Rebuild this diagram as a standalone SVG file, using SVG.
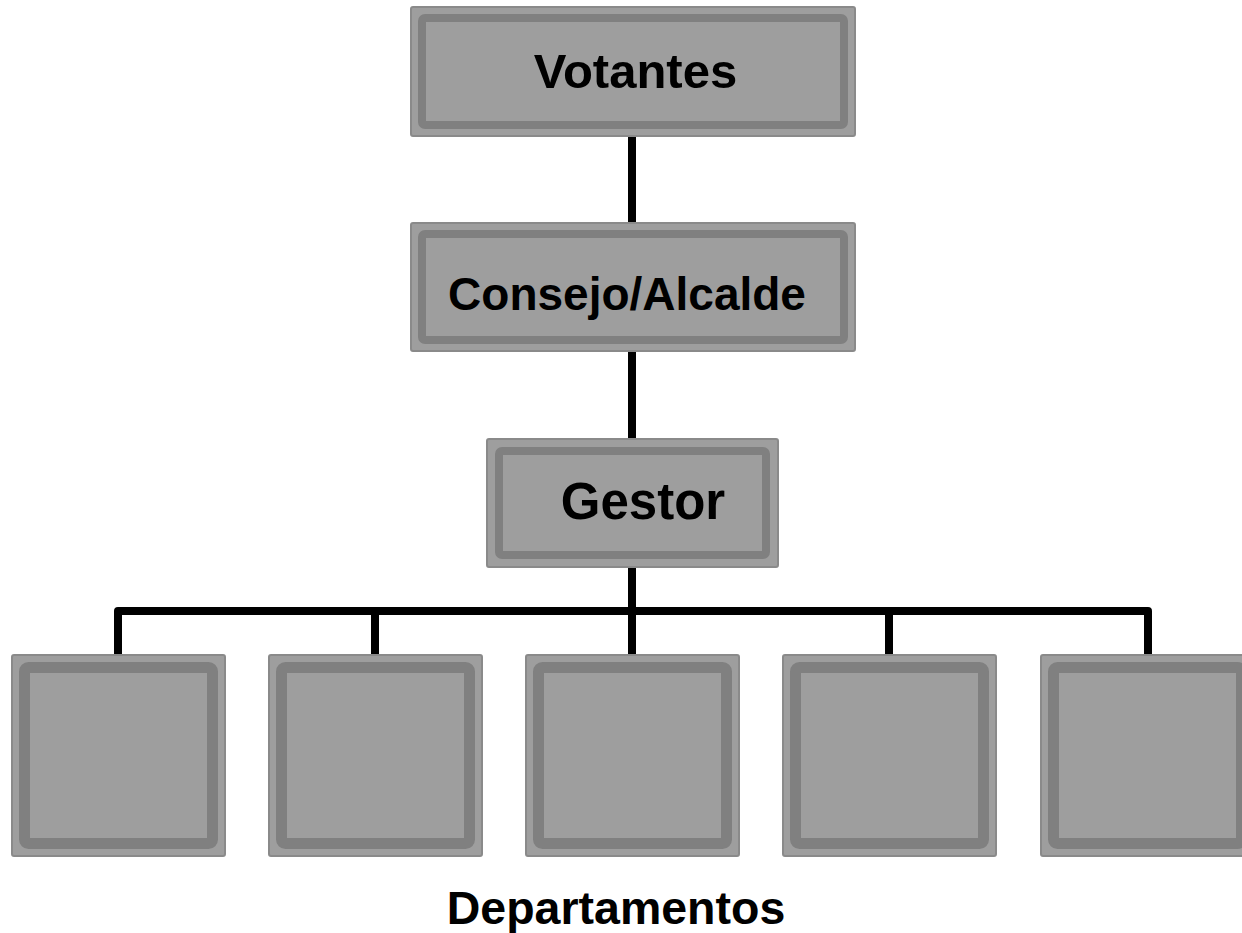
<svg xmlns="http://www.w3.org/2000/svg" width="1242" height="933" viewBox="0 0 1242 933">
<style>
.outer{fill:#9e9e9e;stroke:#8a8a8a;stroke-width:2}
.band{fill:#9e9e9e;stroke:#808080}
.lbl{font-family:"Liberation Sans",Arial,sans-serif;font-weight:bold;fill:#000;text-anchor:middle}
.conn{stroke:#000;stroke-width:8;fill:none}
</style>
<rect width="1242" height="933" fill="#fff"/>
<g id="connectors">
<line class="conn" x1="632" y1="136" x2="632" y2="223"/>
<line class="conn" x1="632" y1="351" x2="632" y2="439"/>
<line class="conn" x1="632" y1="567" x2="632" y2="655"/>
<path class="conn" d="M118,655 V611 H1148 V655" stroke-linejoin="round"/>
<line class="conn" x1="375" y1="611" x2="375" y2="655"/>
<line class="conn" x1="889" y1="611" x2="889" y2="655"/>
</g>
<g id="votantes">
<rect class="outer" x="411" y="7" width="444" height="129" rx="2"/>
<rect class="band" x="422" y="18" width="422" height="107" rx="3" stroke-width="8"/>
<text class="lbl" x="635.5" y="88" font-size="49">Votantes</text>
</g>
<g id="consejo">
<rect class="outer" x="411" y="223" width="444" height="128" rx="2"/>
<rect class="band" x="422" y="234" width="422" height="106" rx="3" stroke-width="8"/>
<text class="lbl" x="627" y="310" font-size="46">Consejo/Alcalde</text>
</g>
<g id="gestor">
<rect class="outer" x="487" y="439" width="291" height="128" rx="2"/>
<rect class="band" x="499" y="451" width="267" height="104" rx="3" stroke-width="8"/>
<text class="lbl" x="643" y="519" font-size="51">Gestor</text>
</g>
<g id="dept1">
<rect class="outer" x="12" y="655" width="213" height="201" rx="2"/>
<rect class="band" x="24.5" y="667.5" width="188" height="176" rx="4" stroke-width="11"/>
</g>
<g id="dept2">
<rect class="outer" x="269" y="655" width="213" height="201" rx="2"/>
<rect class="band" x="281.5" y="667.5" width="188" height="176" rx="4" stroke-width="11"/>
</g>
<g id="dept3">
<rect class="outer" x="526" y="655" width="213" height="201" rx="2"/>
<rect class="band" x="538.5" y="667.5" width="188" height="176" rx="4" stroke-width="11"/>
</g>
<g id="dept4">
<rect class="outer" x="783" y="655" width="213" height="201" rx="2"/>
<rect class="band" x="795.5" y="667.5" width="188" height="176" rx="4" stroke-width="11"/>
</g>
<g id="dept5">
<rect class="outer" x="1041" y="655" width="213" height="201" rx="2"/>
<rect class="band" x="1053.5" y="667.5" width="188" height="176" rx="4" stroke-width="11"/>
</g>
<g id="departamentos-label">
<text class="lbl" x="616" y="924" font-size="46.5">Departamentos</text>
</g>
</svg>
